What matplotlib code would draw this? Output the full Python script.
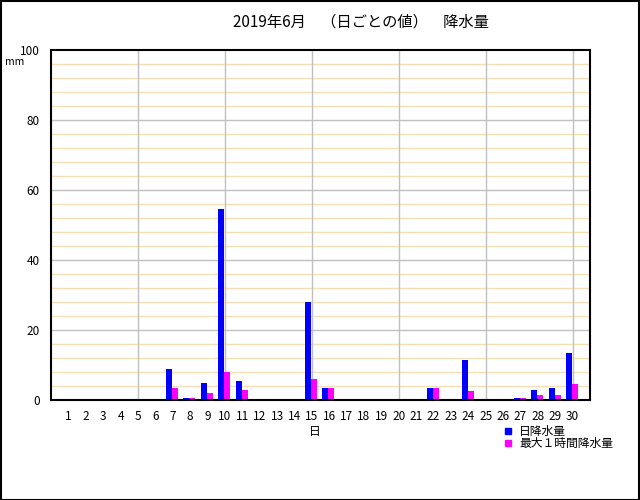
import numpy as np
import matplotlib
matplotlib.use("Agg")
import matplotlib.pyplot as plt
from matplotlib.patches import Rectangle

plt.rcParams['font.family'] = ['Noto Sans CJK JP', 'DejaVu Sans']

days = np.arange(1, 31)
# 日降水量 (mm)
daily = [0, 0, 0, 0, 0, 0, 9.0, 0.5, 5.0, 54.5, 5.5, 0, 0, 0, 28.0,
         3.5, 0, 0, 0, 0, 0, 3.5, 0, 11.5, 0, 0, 0.5, 3.0, 3.5, 13.5]
# 最大1時間降水量 (mm)
hourly_max = [0, 0, 0, 0, 0, 0, 3.5, 0.5, 2.0, 8.0, 3.0, 0, 0, 0, 6.0,
              3.5, 0, 0, 0, 0, 0, 3.5, 0, 2.5, 0, 0, 0.5, 1.5, 1.5, 4.5]

title = "2019年6月\u3000（日ごとの値）\u3000降水量"
series_names = ["日降水量", "最大１時間降水量"]
blue = "#0000ff"
magenta = "#ff00ff"

fig = plt.figure(figsize=(6.4, 5.0), dpi=100)
ax = fig.add_axes([51 / 640, 0.2, 539 / 640, 0.7])

# grid: beige minor lines every 4 mm, grey every 20 mm and every 5 days
for v in range(4, 100, 4):
    if v % 20:
        ax.axhline(v, color="#f5deb3", lw=1, zorder=0)
for v in range(20, 100, 20):
    ax.axhline(v, color="#c0c0c0", lw=1, zorder=0)
for d in range(5, 31, 5):
    ax.axvline(d, color="#c0c0c0", lw=1, zorder=0)

w = 0.345
ax.bar(days - 0.04 - w, daily, width=w, align="edge", color=blue, zorder=2)
ax.bar(days - 0.04, hourly_max, width=w, align="edge", color=magenta, zorder=2)

ax.set_xlim(0, 31)
ax.set_ylim(0, 100)
ax.set_xticks(days)
ax.set_xticklabels([str(d) for d in days], fontsize=8.5)
ax.set_yticks(range(0, 101, 20))
ax.set_yticklabels([str(v) for v in range(0, 101, 20)], fontsize=8.5)
ax.tick_params(length=0, pad=7)
ax.tick_params(axis="y", pad=8)
for s in ax.spines.values():
    s.set_linewidth(1.5)
    s.set_color("black")

fig.text(361 / 640, 1 - 22 / 500, title, ha="center", va="center", fontsize=11)
fig.text(15 / 640, 1 - 62 / 500, "mm", ha="center", va="center", fontsize=7.5)
fig.text(315 / 640, 1 - 432 / 500, "日", ha="center", va="center", fontsize=8.5)

# legend
for i, (name, c) in enumerate(zip(series_names, [blue, magenta])):
    y = 1 - (431 + i * 12) / 500
    fig.patches.append(Rectangle((505 / 640, y - 3 / 500), 6 / 640, 6 / 500,
                                 transform=fig.transFigure, color=c))
    fig.text(519 / 640, y, name, ha="left", va="center", fontsize=8.5)

# figure frame
fig.patches.append(Rectangle((0.001, 0.001), 0.997, 0.997, transform=fig.transFigure,
                             fill=False, edgecolor="black", lw=1.5))

fig.savefig("out.png", dpi=100)
